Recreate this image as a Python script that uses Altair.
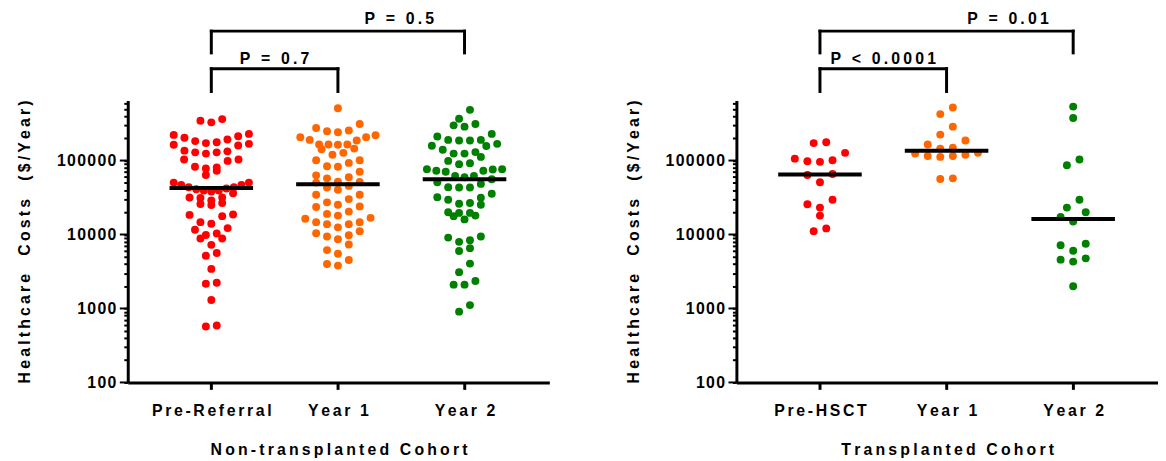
import json
import numpy as np
import pandas as pd
import altair as alt

# ---------------- data ----------------
nt_labels = ["Pre-Referral", "Year 1", "Year 2"]
tx_labels = ["Pre-HSCT", "Year 1", "Year 2"]

nt_pre_referral = [363000, 328000, 345000,
                   222000, 203000, 183000, 172000, 163000, 160000, 168000, 177000, 192000, 213000, 229000,
                   133000, 129000, 124000, 129000, 136000,
                   103000, 98900, 103000,
                   80500, 72700, 78100, 82200,
                   63600,
                   50300, 46800, 43500, 41800, 39300, 38100, 39300, 41000, 43500, 46800, 50300,
                   36200, 31700, 28900, 25800, 25100, 26600, 31100, 31700,
                   18600, 17700, 18400,
                   14000, 14700,
                   12200, 11600,
                   10300, 9860,
                   8810, 8810, 7250,
                   5610, 5170,
                   3430,
                   2160, 2230,
                   1300,
                   571, 589]
nt_year1 = [509000,
            312000, 275000,
            254000, 241000, 220000, 249000,
            207000, 187000, 165000, 165000, 142000, 145000, 163000, 165000, 190000, 207000,
            120000, 127000,
            101000, 92900, 101000,
            83900, 82200,
            70500, 59300, 63000,
            57400, 51900, 45400, 40200, 43200, 50300, 51300,
            34400, 30100, 25300, 23500, 24000, 27200, 34400,
            19000, 16800, 14700, 13800, 13800, 14700, 16300, 18000, 20400,
            12500, 10400, 9380, 8640, 9770, 11100,
            7330, 6150, 5500,
            4530, 3800, 4000]
nt_year2 = [484000,
            367000, 312000, 299000, 287000,
            229000, 190000, 187000, 168000, 211000, 190000, 187000,
            157000, 158000, 130000, 124000, 112000, 124000, 140000,
            98900, 89300, 76500, 72700, 70500, 72700, 75700, 76500, 92000,
            61700, 55700, 48300, 43200, 43200, 43500, 50800, 59300, 61700,
            35500, 31400, 26600, 25300, 26100, 29500, 32000,
            20000, 19600, 17700, 16000, 18000, 19600,
            8370, 9080, 9380, 7950, 6540, 5970,
            4040,
            3100,
            2100, 2100, 2350,
            906, 1110]

tx_pre_hsct = [177000, 172000, 127000, 101000, 95900, 97900, 106000,
               63600, 65600, 50800, 29500, 23100, 25600, 18000, 11100, 12100]
tx_year1 = [520000, 424000, 287000, 224000, 187000, 149000, 165000, 145000,
            127000, 120000, 115000, 112000, 115000, 124000, 56200, 57400]
tx_year2 = [536000, 375000, 103000, 86500, 29500, 23100, 20000, 17300, 15000,
            7480, 7180, 6030, 4570, 4300, 4760, 2000]

nt_comparisons = [(0, 1, "P = 0.7"), (0, 2, "P = 0.5")]
tx_comparisons = [(0, 1, "P < 0.0001"), (0, 2, "P = 0.01")]

y_major = [100, 1000, 10000, 100000]
y_minor = [m * 10 ** e for e in range(2, 6) for m in range(2, 10) if m * 10 ** e <= 600000]

colors = ["#FF0000", "#FF6600", "#008000"]

# ---------------- layout constants ----------------
W, H = 426, 285
YMIN, YMAX = 100, 650000
XMIN, XMAX = -0.66, 2.67
PX_PER_UNIT = W / (XMAX - XMIN)
DEC_PX = H / np.log10(YMAX / YMIN)
FONT = "Liberation Sans"
THIN = "\u2009"
HAIR = "\u200a"


def spaced(s, sep=THIN):
    return sep.join(list(s))


def swarm(values, row_h, step, half_w):
    vals = sorted(values, reverse=True)
    ys = [np.log10(v) * DEC_PX for v in vals]
    rows, cur = [], [0]
    for i in range(1, len(vals)):
        if ys[cur[0]] - ys[i] <= row_h:
            cur.append(i)
        else:
            rows.append(cur)
            cur = [i]
    rows.append(cur)
    offs = [0.0] * len(vals)
    for r in rows:
        n = len(r)
        s = step if n == 1 else min(step, 2 * half_w / (n - 1))
        slots = [(k - (n - 1) / 2) * s for k in range(n)]
        order = sorted(range(n), key=lambda k: (abs(slots[k]), slots[k]))
        members = sorted(r, key=lambda i: vals[i])
        for k, m in zip(order, members):
            offs[m] = slots[k]
    return vals, offs


def build_df(groups, step):
    rows = []
    for idx, g in enumerate(groups):
        vals, offs = swarm(g, 10, step, 38)
        for v, o in zip(vals, offs):
            rows.append({"idx": idx, "value": v, "xpos": idx + o / PX_PER_UNIT})
    return pd.DataFrame(rows)


def panel(groups, labels, comparisons, title, step):
    df = build_df(groups, step)
    xscale = alt.Scale(domain=[XMIN, XMAX], nice=False, zero=False)
    yscale = alt.Scale(type="log", domain=[YMIN, YMAX], nice=False)
    lab_arr = json.dumps([spaced(l, HAIR + HAIR) for l in labels])
    xaxis = alt.Axis(values=[0, 1, 2], labelExpr=f"{lab_arr}[datum.value]",
                     title=spaced(title), tickSize=7, tickWidth=3, domainWidth=3,
                     labelPadding=13, titlePadding=24, grid=False, labelFlush=False,
                     labelOverlap=False)
    yaxis = alt.Axis(values=sorted(y_major + y_minor),
                     labelExpr="indexof([100,1000,10000,100000], datum.value) >= 0 ? "
                               "join(split(format(datum.value, 'd'), ''), '" + HAIR + "') : ''",
                     title=spaced("Healthcare  Costs  ($/Year)"),
                     tickSize=4, tickWidth=2, domainWidth=3, labelPadding=8,
                     titlePadding=24, grid=False, labelOverlap=False)

    base = alt.Chart(df)
    pts = base.mark_circle(size=64, opacity=1).encode(
        x=alt.X("xpos:Q", scale=xscale, axis=xaxis),
        y=alt.Y("value:Q", scale=yscale, axis=yaxis),
        color=alt.Color("idx:N", scale=alt.Scale(domain=[0, 1, 2], range=colors), legend=None),
    )
    med = base.transform_aggregate(med="median(value)", groupby=["idx"]).transform_calculate(
        x1="datum.idx - 0.33", x2="datum.idx + 0.33"
    ).mark_rule(color="black", strokeWidth=4).encode(
        x=alt.X("x1:Q", scale=xscale), x2="x2:Q", y=alt.Y("med:Q", scale=yscale)
    )
    major = alt.Chart(pd.DataFrame({"t": y_major})).mark_rule(color="black", strokeWidth=2).encode(
        y=alt.Y("t:Q", scale=yscale), x=alt.value(-8), x2=alt.value(0)
    )
    layers = [pts, med, major]
    levels = [(-32, -9, -37, 0), (-70, -48, -77, 62)]
    for (a, b, txt), (top, bot, ty, dx) in zip(comparisons, levels):
        cdf = pd.DataFrame({"a": [a], "b": [b], "txt": [spaced(txt)], "mid": [(a + b) / 2]})
        c = alt.Chart(cdf)
        layers.append(c.mark_rule(color="black", strokeWidth=3, strokeCap="square").encode(
            x=alt.X("a:Q", scale=xscale), x2="b:Q", y=alt.value(top)))
        layers.append(c.transform_fold(["a", "b"], as_=["end", "pos"]).mark_rule(
            color="black", strokeWidth=3, strokeCap="square").encode(
            x=alt.X("pos:Q", scale=xscale), y=alt.value(top), y2=alt.value(bot)))
        layers.append(c.mark_text(font=FONT, fontWeight="bold", fontSize=16, baseline="alphabetic",
                                  align="center", dx=dx, color="black").encode(
            x=alt.X("mid:Q", scale=xscale), y=alt.value(ty), text="txt:N"))
    return alt.layer(*layers).properties(width=W, height=H)


left = panel([nt_pre_referral, nt_year1, nt_year2], nt_labels, nt_comparisons,
             "Non-transplanted Cohort", 11)
right = panel([tx_pre_hsct, tx_year1, tx_year2], tx_labels, tx_comparisons,
              "Transplanted Cohort", 12.7)

chart = alt.hconcat(left, right, spacing=76).properties(
    background="white", padding={"left": 8, "top": 1, "right": 0, "bottom": 0}
).configure_view(
    stroke=None
).configure_axis(
    labelFont=FONT, labelFontWeight="bold", labelFontSize=16, labelColor="black",
    titleFont=FONT, titleFontWeight="bold", titleFontSize=16, titleColor="black",
    domainColor="black", tickColor="black",
)

chart.save("out.html", embed_options={"renderer": "svg", "actions": False})
